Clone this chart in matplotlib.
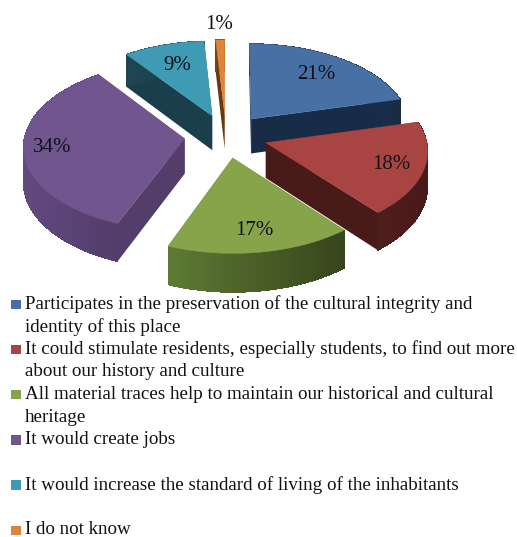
import numpy as np
import matplotlib
matplotlib.use("Agg")
import matplotlib.pyplot as plt
from matplotlib.colors import to_rgb
from matplotlib.patches import Polygon, Rectangle

labels = [
    "Participates in the preservation of the cultural integrity and\nidentity of this place",
    "It could stimulate residents, especially students, to find out more\nabout our history and culture",
    "All material traces help to maintain our historical and cultural\nheritage",
    "It would create jobs\n",
    "It would increase the standard of living of the inhabitants\n",
    "I do not know",
]
values = [21, 18, 17, 34, 9, 1]
top_colors = ["#4870a5", "#a84543", "#87a44a", "#70558f", "#3f9ab4", "#dd853a"]
wall_light = ["#1b3350", "#4e1e1b", "#5f7a35", "#62497f", "#1e4652", "#7a4210"]
wall_dark = ["#182c48", "#481a18", "#36451b", "#523d6b", "#1a3e4a", "#6a380c"]
label_radius = [0.72, 0.8, 0.78, 0.82, 0.7, 1.23]
draw_order = [4, 5, 0, 3, 2, 1]

CX, CY = 226, 136
RX, RY = 160, 84
EXPLODE = 0.26
TILT = 0.08
DEPTH = 35
ROW_TOP, ROW_STEP = 304, 22.6


def project(u, v, drop=0.0):
    # u to the right, v toward the viewer, on the unit disc
    s = 1.0 / (1.0 - TILT * v)
    return CX + RX * u * s, CY + RY * v * s + drop * s


fig = plt.figure(figsize=(5.17, 5.37), dpi=100)
ax = fig.add_axes([0, 0, 1, 1])
ax.set_xlim(0, 517)
ax.set_ylim(537, 0)
ax.axis("off")

fracs = np.array(values) / sum(values)
edges = np.concatenate([[0], np.cumsum(fracs)]) * 2 * np.pi

for z, i in enumerate(draw_order):
    a0, a1 = edges[i], edges[i + 1]
    mid = (a0 + a1) / 2
    ou, ov = EXPLODE * np.sin(mid), -EXPLODE * np.cos(mid)
    t = np.linspace(a0, a1, 80)
    us = ou + np.sin(t)
    vs = ov - np.cos(t)

    rim = np.array([project(u, v) for u, v in zip(us, vs)])
    rim_low = np.array([project(u, v, DEPTH) for u, v in zip(us, vs)])
    apex = np.array(project(ou, ov))
    apex_low = np.array(project(ou, ov, DEPTH))

    # cut faces
    for k in (0, -1):
        ax.add_patch(Polygon([apex, rim[k], rim_low[k], apex_low],
                             fc=wall_dark[i], ec="none", zorder=1 + z))

    # outer wall, shaded left to right
    c0 = np.array(to_rgb(wall_light[i]))
    c1 = np.array(to_rgb(wall_dark[i]))
    span = max(rim[:, 0].max() - rim[:, 0].min(), 1)
    for k in range(len(t) - 1):
        f = (rim[k, 0] - rim[:, 0].min()) / span
        col = c0 + (c1 - c0) * f
        ax.add_patch(Polygon([rim[k], rim[k + 1], rim_low[k + 1], rim_low[k]],
                             fc=col, ec="none", antialiased=False, zorder=1 + z))

    ax.add_patch(Polygon(np.vstack([apex, rim]), fc=top_colors[i], ec=top_colors[i],
                         lw=0.3, zorder=1.5 + z))

    r = label_radius[i]
    lx, ly = project(ou + r * np.sin(mid), ov - r * np.cos(mid))
    ax.text(lx, ly, f"{values[i]}%", family="Liberation Serif", fontsize=15,
            color="#101018", ha="center", va="center", zorder=20)

# legend block
row = 0
for name, col in zip(labels, top_colors):
    y = ROW_TOP + ROW_STEP * row
    ax.add_patch(Rectangle((11, y - 4.5), 9.5, 9.5, fc=col, ec="none", zorder=20))
    for line in name.split("\n"):
        ax.text(25, ROW_TOP + ROW_STEP * row, line, family="Liberation Serif", fontsize=13.7,
                color="#111111", ha="left", va="center", zorder=20)
        row += 1

fig.savefig("out.png", dpi=100)
